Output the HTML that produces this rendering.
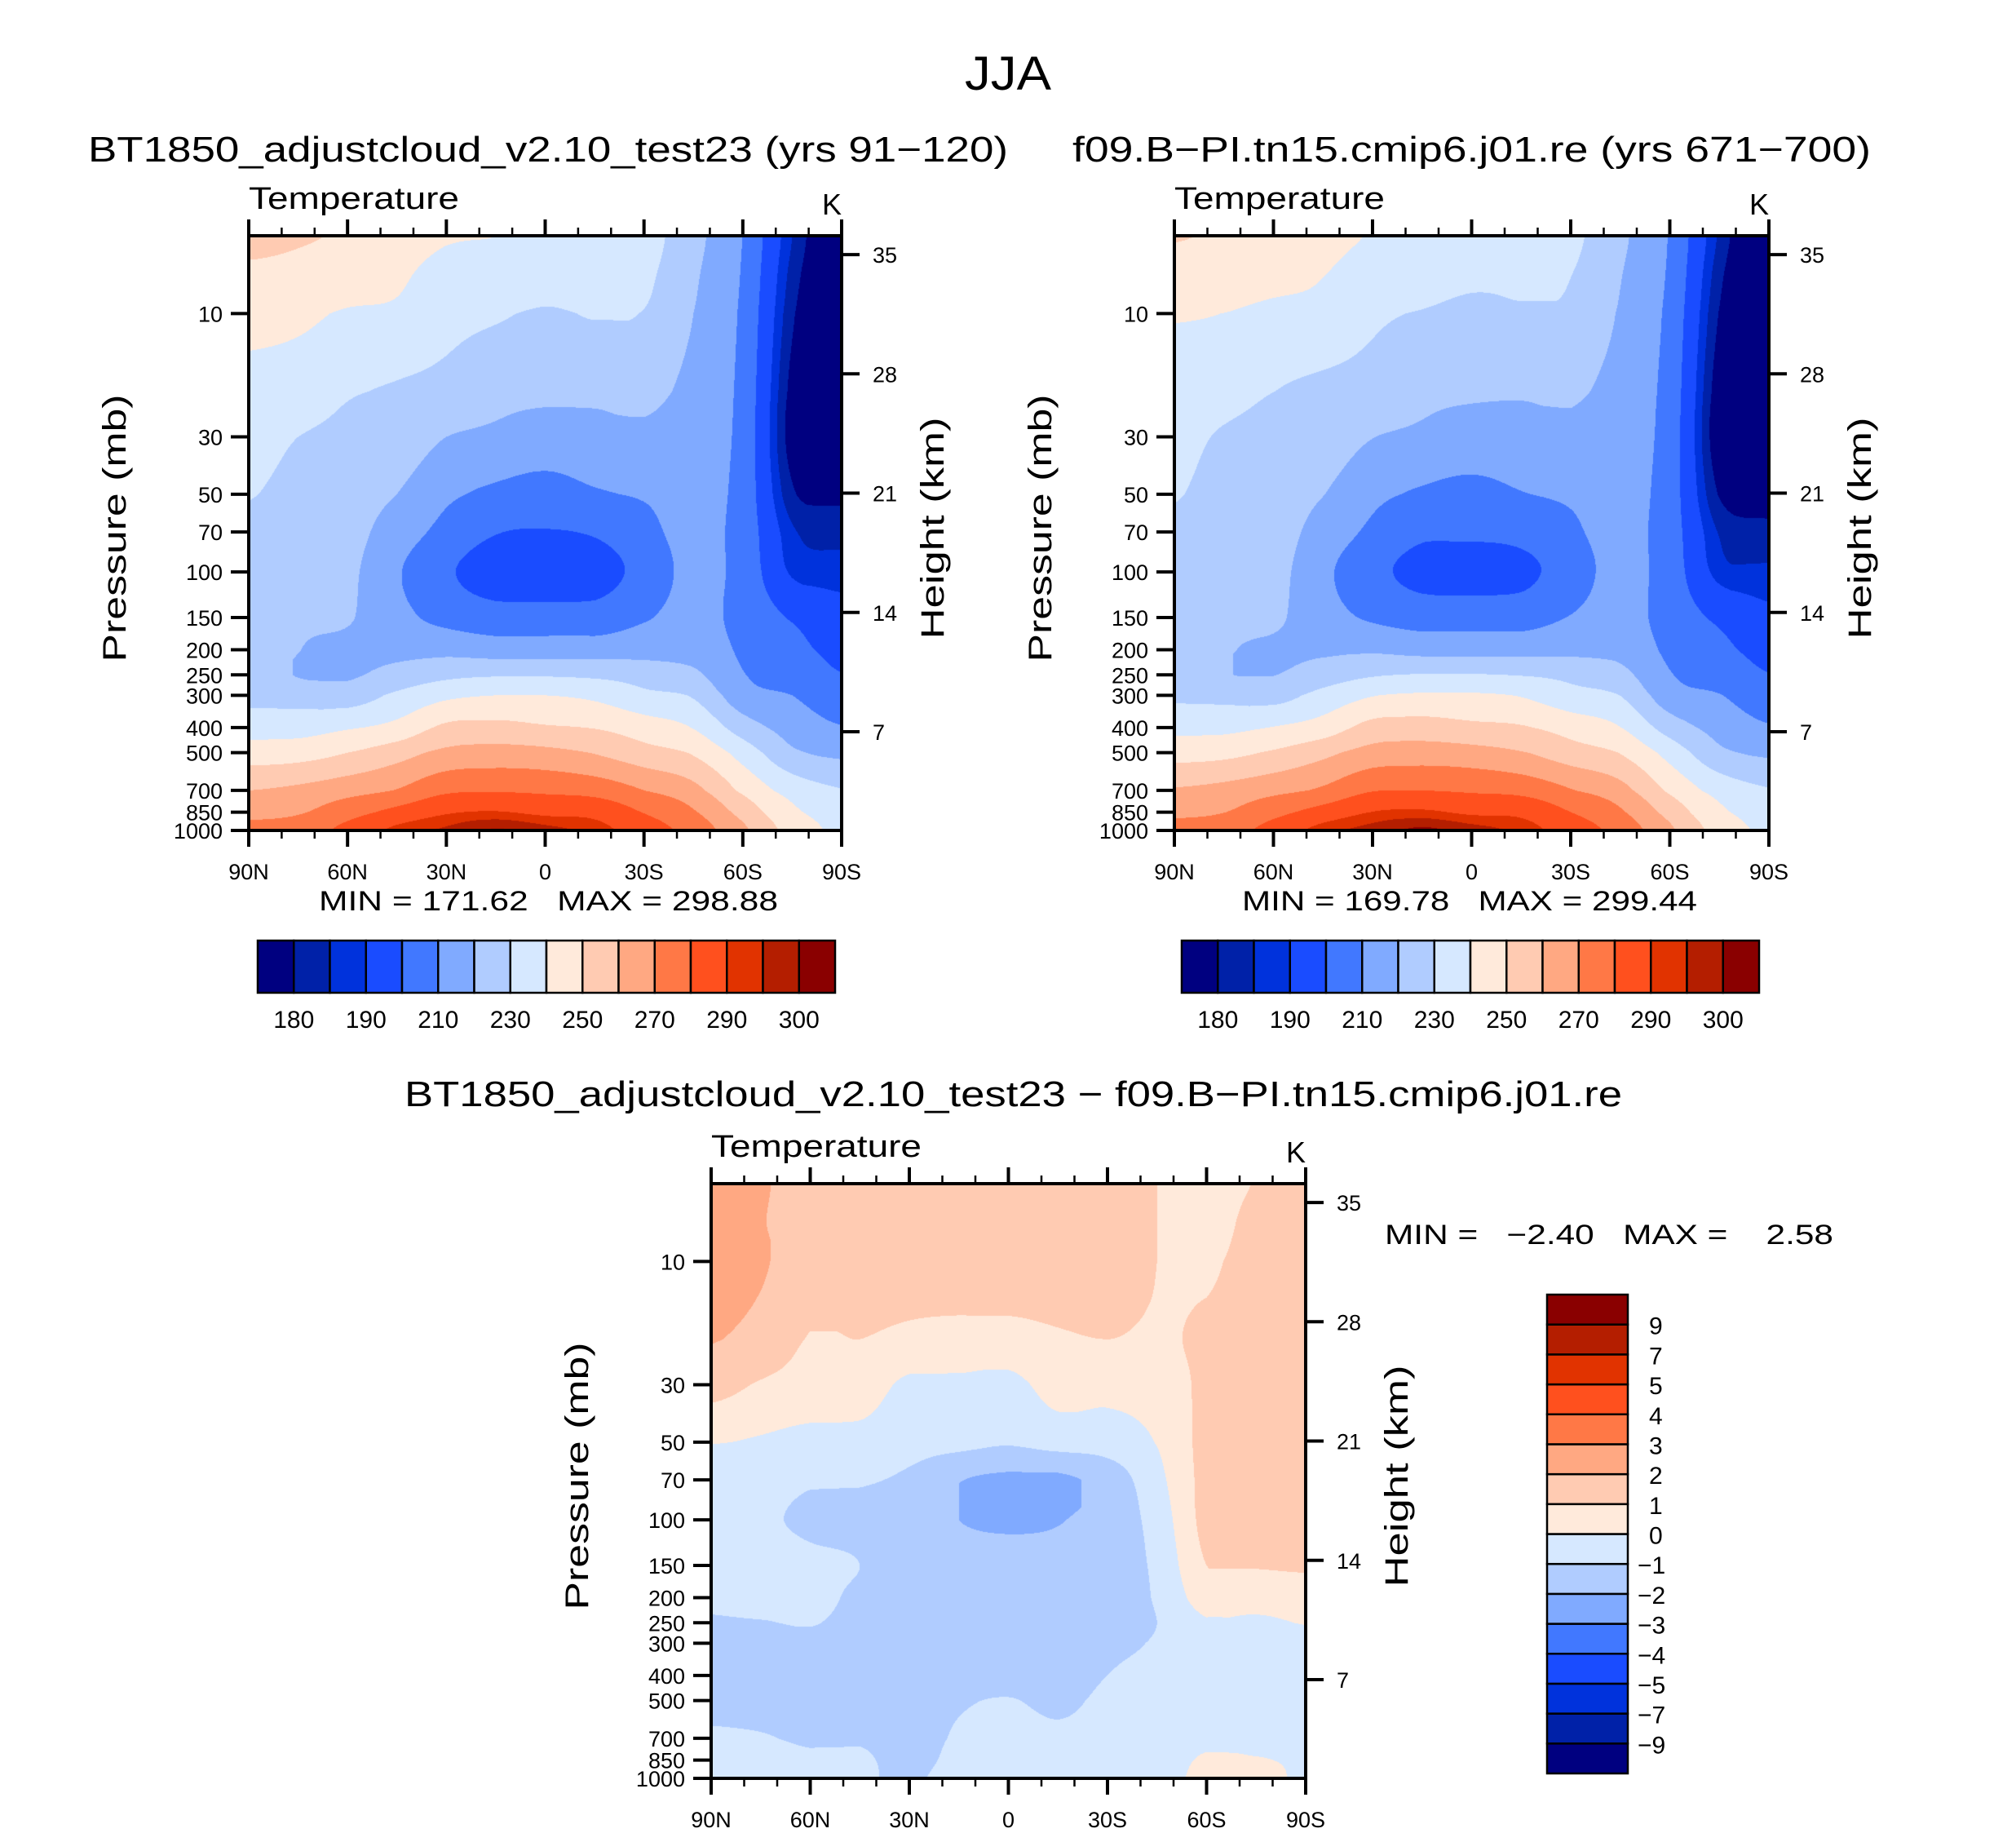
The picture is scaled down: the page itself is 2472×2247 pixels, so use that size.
<!DOCTYPE html>
<html><head><meta charset="utf-8">
<style>
html,body{margin:0;padding:0;background:#fff;}
#wrap{position:relative;width:2472px;height:2247px;overflow:hidden;background:#fff;}
canvas{position:absolute;}
svg{position:absolute;left:0;top:0;}
text{font-family:"Liberation Sans",sans-serif;fill:#000;}
</style></head>
<body>
<div id="wrap">
<canvas id="c1" style="left:305px;top:289px" width="727" height="729"></canvas>
<canvas id="c2" style="left:1440px;top:289px" width="729" height="729"></canvas>
<canvas id="c3" style="left:872px;top:1451px" width="729" height="729"></canvas>
<svg id="svg" width="2472" height="2247" viewBox="0 0 2472 2247">
<text x="1236" y="110" font-size="58" text-anchor="middle" textLength="106" lengthAdjust="spacingAndGlyphs">JJA</text>
<text x="108" y="198" font-size="44" textLength="1128" lengthAdjust="spacingAndGlyphs">BT1850_adjustcloud_v2.10_test23 (yrs 91−120)</text>
<text x="1315" y="198" font-size="44" textLength="979" lengthAdjust="spacingAndGlyphs">f09.B−PI.tn15.cmip6.j01.re (yrs 671−700)</text>
<text x="496" y="1356" font-size="44" textLength="1493" lengthAdjust="spacingAndGlyphs">BT1850_adjustcloud_v2.10_test23 − f09.B−PI.tn15.cmip6.j01.re</text>
<text x="391" y="1116" font-size="34" textLength="563" lengthAdjust="spacingAndGlyphs" xml:space="preserve">MIN = 171.62   MAX = 298.88</text>
<text x="1523" y="1116" font-size="34" textLength="558" lengthAdjust="spacingAndGlyphs" xml:space="preserve">MIN = 169.78   MAX = 299.44</text>
<text x="1698" y="1525" font-size="34" textLength="550" lengthAdjust="spacingAndGlyphs" xml:space="preserve">MIN =   −2.40   MAX =    2.58</text>
</svg>
</div>
<script>
// ---- data ----
const lats = [90,75,60,45,30,15,0,-15,-30,-45,-60,-75,-90];
const levels = [5,7,10,20,30,50,70,100,150,200,250,300,400,500,700,850,1000];
const tempLevels = [180,185,190,200,210,220,230,240,250,260,270,280,290,295,300];
const tempTickLabels = ["180","190","210","230","250","270","290","300"];
const diffLevels = [-9,-7,-5,-4,-3,-2,-1,0,1,2,3,4,5,7,9];
const pressTicks = [10,30,50,70,100,150,200,250,300,400,500,700,850,1000];
const heightTicks = [35,28,21,14,7];
const latTicks = [90,60,30,0,-30,-60,-90];
const latTickLabels = ["90N","60N","30N","0","30S","60S","90S"];
const palette = ["#000080","#0021a8","#0032dc","#1a4cff","#4178ff","#80aaff","#b0ccff","#d6e8ff","#ffeadb","#ffcbb2","#ffa882","#ff7846","#ff501e","#e13300","#b41e00","#8a0000"];

// panel 1 temperature columns (90N -> 90S), values at each level
const t1_c0=[253,248,243,237,234,230.5,228,226,225,225,226,227,236,245,260,267,273];
const t1_c1=[251,247,242,235,230,227,225,223,221.5,220.2,219.5,226,236,246,262,269,275];
const t1_c2=[249,245,239,231,228,225,223.5,222,220.8,218,218.8,225,239,250,266,276,283];
const t1_c3=[246,242,238,229,226,220,215,211,213,217,223.5,232,243,256,270.5,283,292];
const t1_c4=[241,236,233,227,220,212,207,201.5,207,217,227.5,238,252,262.5,278,289,296];
const t1_c5=[240,236,231,223,218,208,200.5,195,204,215,229,240,253,264,279,290.5,300.5];
const t1_c6=[238,234,229,222,216,206,199.5,194,204,215,229,240,251,263,278,288,297];
const t1_c7=[236,233,230.5,222,217,209,201,195.5,204,215,228,238,249.5,259.5,276,287,293];
const t1_c8=[234,232,229.5,222.5,218,211,207,203.5,209,216,226,232.5,245,254,270,279.5,285];
const t1_c9=[223,221.5,220,217,215.5,214,213,212.5,213,216,222,229,239.5,249,263,271,276];
const t1_c10=[209.8,209,208,207,206.5,206,206,206.5,207,208.5,210.5,214,225,236,248,256.5,262];
const t1_c11=[185,183,181,178,177,181,186,189,199,203,206,210,216,222,236,242,246];
const t1_c12=[172,172,171.6,172,173,178.5,183,187.5,193,197,200.3,204,210.5,218,230.5,236,238];

// panel 2 temperature columns
const t2_c0=[250.6,245.6,240.7,235.0,232.6,230.5,228.5,227,225.7,225.8,227.1,228.3,237.3,246.2,260.9,267.7,273.6];
const t2_c1=[248.9,245.0,239.9,233.3,229.1,227.1,225.6,223.9,222.1,220.8,220.6,227.3,237.4,247.3,263.0,269.8,275.7];
const t2_c2=[247.4,243.4,237.5,230.1,227.4,225.3,224.4,223.2,221.6,218.7,219.8,226.2,240.4,251.4,267.1,276.9,283.8];
const t2_c3=[244.4,240.4,236.5,228,225.5,220.3,215.9,212.3,214,218.2,224.8,233.4,244.5,257.5,271.6,283.9,292.9];
const t2_c4=[239.3,234.3,231.5,226.2,220.2,212.6,208.0,203,208.6,218.5,229,239.5,253.5,263.9,279.3,290.2,297.1];
const t2_c5=[238.2,234.2,229.4,222.3,218.2,208.7,201.9,196.9,205.6,216.5,230.5,241.5,254.4,265.1,279.9,291.3,301.2];
const t2_c6=[236.2,232.2,227.4,221.3,216.3,206.9,201.6,196.1,205.6,216.5,230.5,241.4,252.3,264.0,278.6,288.5,297.4];
const t2_c7=[234.2,231.2,228.9,221.1,216.6,209.6,203.1,197.5,205.6,216.5,229.5,239.4,250.9,260.7,276.8,287.6,293.4];
const t2_c8=[232.2,230.2,228,221.5,217.7,211.5,208.2,204.9,210.4,217.4,227.3,233.7,246,254.8,270.6,280,285.4];
const t2_c9=[222,220.5,219.0,216.1,215,214.0,213.3,213.1,213.8,216.9,223,229.9,240.2,249.6,263.5,271.4,276.3];
const t2_c10=[209.2,208.4,207.2,205.9,205.3,204.7,204.7,205.2,206,208,210.6,214.2,225.4,236.4,248.2,256.4,261.8];
const t2_c11=[184.0,181.7,179.6,176.5,175.5,179.5,184.5,187.6,198.0,202.5,206.2,210.4,216.5,222.5,236.3,242.0,245.8];
const t2_c12=[170.5,170.5,170.1,170.5,171.5,177,181.5,186.1,191.9,196.4,200.3,204.3,210.9,218.4,230.7,236.1,238.1];

// difference columns
const d_c0=[2.4,2.4,2.3,2.05,1.4,0.05,-0.5,-1.0,-0.7,-0.8,-1.1,-1.3,-1.3,-1.2,-0.9,-0.7,-0.6];
const d_c1=[2.1,2.05,2.1,1.7,0.9,-0.1,-0.6,-0.9,-0.6,-0.6,-1.05,-1.3,-1.4,-1.3,-0.95,-0.8,-0.7];
const d_c2=[1.6,1.6,1.5,0.95,0.6,-0.3,-0.9,-1.15,-0.8,-0.7,-0.95,-1.2,-1.4,-1.4,-1.1,-0.9,-0.8];
const d_c3=[1.6,1.6,1.5,1.0,0.5,-0.3,-0.9,-1.3,-1.0,-1.2,-1.3,-1.4,-1.5,-1.5,-1.1,-0.9,-0.9];
const d_c4=[1.7,1.7,1.5,0.8,-0.2,-0.6,-1.2,-1.6,-1.6,-1.5,-1.5,-1.5,-1.5,-1.4,-1.3,-1.2,-1.1];
const d_c5=[1.8,1.8,1.6,0.7,-0.2,-0.7,-1.95,-2.0,-1.6,-1.5,-1.5,-1.5,-1.4,-1.1,-0.9,-0.8,-0.7];
const d_c6=[1.8,1.8,1.6,0.7,-0.3,-0.9,-2.2,-2.15,-1.6,-1.5,-1.5,-1.4,-1.3,-0.95,-0.6,-0.5,-0.4];
const d_c7=[1.8,1.8,1.6,0.9,0.4,-0.6,-2.2,-2.05,-1.6,-1.5,-1.5,-1.4,-1.4,-1.2,-0.8,-0.6,-0.4];
const d_c8=[1.8,1.8,1.5,1.0,0.3,-0.5,-1.6,-1.6,-1.4,-1.35,-1.3,-1.2,-1.0,-0.8,-0.6,-0.5,-0.4];
const d_c9=[1.0,1.0,1.0,0.9,0.5,0.05,-0.3,-0.6,-0.8,-0.9,-1.0,-0.9,-0.7,-0.6,-0.5,-0.4,-0.3];
const d_c10=[0.6,0.6,0.85,1.15,1.2,1.3,1.3,1.3,1.0,0.5,-0.1,-0.2,-0.4,-0.4,-0.2,0.1,0.2];
const d_c11=[1.05,1.3,1.4,1.5,1.5,1.5,1.5,1.4,1.05,0.5,-0.2,-0.4,-0.5,-0.5,-0.3,0.05,0.2];
const d_c12=[1.5,1.5,1.5,1.5,1.5,1.5,1.5,1.4,1.1,0.6,0.05,-0.3,-0.4,-0.4,-0.2,-0.1,-0.1];

const t1=[t1_c0,t1_c1,t1_c2,t1_c3,t1_c4,t1_c5,t1_c6,t1_c7,t1_c8,t1_c9,t1_c10,t1_c11,t1_c12];
const t2=[t2_c0,t2_c1,t2_c2,t2_c3,t2_c4,t2_c5,t2_c6,t2_c7,t2_c8,t2_c9,t2_c10,t2_c11,t2_c12];
const dd=[d_c0,d_c1,d_c2,d_c3,d_c4,d_c5,d_c6,d_c7,d_c8,d_c9,d_c10,d_c11,d_c12];

// ---- geometry ----
const panels=[
 {left:305,top:289,w:727,h:729,data:t1,lv:tempLevels,canvas:'c1',pre:'panel1'},
 {left:1440,top:289,w:729,h:729,data:t2,lv:tempLevels,canvas:'c2',pre:'panel2'},
 {left:872,top:1451,w:729,h:729,data:dd,lv:diffLevels,canvas:'c3',pre:'diff'}
];
const PTOP=5, PBOT=1000;
const logLv=levels.map(p=>Math.log10(p));
function xOf(P,lat){return P.left+(90-lat)/180*P.w;}
function yOfP(P,p){return P.top+P.h*Math.log10(p/PTOP)/Math.log10(PBOT/PTOP);}
function yOfH(P,hk){return P.top+(608-(hk-7)*20.89)*P.h/729;}
function hex(c){return [parseInt(c.slice(1,3),16),parseInt(c.slice(3,5),16),parseInt(c.slice(5,7),16)];}
const rgb=palette.map(hex);

function cr(p0,p1,p2,p3,t){
  // Catmull-Rom with clamped overshoot
  const v=0.5*((2*p1)+(-p0+p2)*t+(2*p0-5*p1+4*p2-p3)*t*t+(-p0+3*p1-3*p2+p3)*t*t*t);
  const lo=Math.min(p1,p2),hi=Math.max(p1,p2);
  return Math.max(lo,Math.min(hi,v));
}
function sample(cols,fx,lp){
  const nx=cols.length,ny=levels.length;
  let i=Math.min(nx-2,Math.max(0,Math.floor(fx)));let tx=fx-i;
  let k=0;while(k<ny-2&&lp>logLv[k+1])k++;
  let ty=(lp-logLv[k])/(logLv[k+1]-logLv[k]);ty=Math.max(0,Math.min(1,ty));
  const cl=(a,n)=>Math.max(0,Math.min(n-1,a));
  const rows=[];
  for(let m=-1;m<=2;m++){
    const kk=cl(k+m,ny);
    rows.push(cr(cols[cl(i-1,nx)][kk],cols[i][kk],cols[i+1][kk],cols[cl(i+2,nx)][kk],tx));
  }
  return cr(rows[0],rows[1],rows[2],rows[3],ty);
}
function colorIdx(v,lv){let n=0;for(const l of lv){if(v>=l)n++;}return n;}

panels.forEach(P=>{
  const cv=document.getElementById(P.canvas);const ctx=cv.getContext('2d');
  const W=cv.width,H=cv.height;const img=ctx.createImageData(W,H);
  const nc=P.data.length-1;
  for(let y=0;y<H;y++){
    const p=PTOP*Math.pow(PBOT/PTOP,(y+0.5)/P.h);const lp=Math.log10(p);
    for(let x=0;x<W;x++){
      const lat=90-(x+0.5)/P.w*180;
      const fx=(90-lat)/180*nc;
      const v=sample(P.data,fx,lp);
      const c=rgb[colorIdx(v,P.lv)];
      const o=(y*W+x)*4;img.data[o]=c[0];img.data[o+1]=c[1];img.data[o+2]=c[2];img.data[o+3]=255;
    }
  }
  ctx.putImageData(img,0,0);
});

// ---- axes ----
const NS='http://www.w3.org/2000/svg';
const svg=document.getElementById('svg');
function el(tag,attrs,parent){const e=document.createElementNS(NS,tag);for(const k in attrs)e.setAttribute(k,attrs[k]);(parent||svg).appendChild(e);return e;}

panels.forEach(P=>{
  const g=el('g',{});
  
  
  const fr=el('rect',{x:P.left,y:P.top,width:P.w,height:P.h,fill:'none',stroke:'#000','stroke-width':4},g);
  
  
  for(let lat=90;lat>=-90;lat-=10){
    const major=lat%30===0;const L=major?20:10;const x=xOf(P,lat);
    const t1e=el('line',{x1:x,x2:x,y1:P.top,y2:P.top-L,stroke:'#000','stroke-width':major?4:2.5},g);
    
    
    const t2e=el('line',{x1:x,x2:x,y1:P.top+P.h,y2:P.top+P.h+L,stroke:'#000','stroke-width':major?4:2.5},g);
    
    
  }
  latTicks.forEach((lat,i)=>{
    const t=el('text',{x:xOf(P,lat),y:P.top+P.h+60,'font-size':27,'text-anchor':'middle'},g);
    t.textContent=latTickLabels[i];
    
    
  });
  pressTicks.forEach(p=>{
    const y=yOfP(P,p);
    const l=el('line',{x1:P.left,x2:P.left-22,y1:y,y2:y,stroke:'#000','stroke-width':4},g);
    
    
    const t=el('text',{x:P.left-32,y:y+10,'font-size':27,'text-anchor':'end'},g);
    t.textContent=String(p);
    
    
  });
  heightTicks.forEach(hk=>{
    const y=yOfH(P,hk);
    const l=el('line',{x1:P.left+P.w,x2:P.left+P.w+22,y1:y,y2:y,stroke:'#000','stroke-width':4},g);
    
    
    const t=el('text',{x:P.left+P.w+38,y:y+10,'font-size':27},g);
    t.textContent=String(hk);
    
    
  });
  const tt=el('text',{x:P.left,y:P.top-33,'font-size':38,textLength:258,lengthAdjust:'spacingAndGlyphs'},g);
  tt.textContent='Temperature';
  
  
  const kk=el('text',{x:P.left+P.w,y:P.top-26,'font-size':36,'text-anchor':'end'},g);
  kk.textContent='K';
  
  
  const cy=P.top+P.h/2-6;
  const px=P.left-151, hx=P.left+P.w+125;
  const pt=el('text',{x:px,y:cy,'font-size':40,'text-anchor':'middle',transform:`rotate(-90 ${px} ${cy})`,textLength:328,lengthAdjust:'spacingAndGlyphs','xml:space':'preserve'},g);
  pt.textContent='Pressure  (mb)';
  
  
  const ht=el('text',{x:hx,y:cy,'font-size':40,'text-anchor':'middle',transform:`rotate(-90 ${hx} ${cy})`,textLength:272,lengthAdjust:'spacingAndGlyphs'},g);
  ht.textContent='Height  (km)';
  
  
});

// ---- horizontal colorbars ----
[{x:316,pre:'panel1'},{x:1449,pre:'panel2'}].forEach(cb=>{
  const g=el('g',{});
  
  
  const y0=1153,hh=64,bw=708/palette.length;
  palette.forEach((c,i)=>{
    const r=el('rect',{x:cb.x+i*bw,y:y0,width:bw,height:hh,fill:c,stroke:'#000','stroke-width':2.5},g);
    
    
  });
  tempTickLabels.forEach((lab,i)=>{
    const bi=tempLevels.indexOf(Number(lab));
    const t=el('text',{x:cb.x+(bi+1)*bw,y:y0+hh+43,'font-size':30,'text-anchor':'middle'},g);
    t.textContent=lab;
    
    
  });
});

// ---- vertical colorbar for difference ----
(function(){
  const g=el('g',{});
  
  
  const x0=1897,y0=1587,bw=99,bh=(2174-1587)/palette.length;
  palette.forEach((c,i)=>{
    const r=el('rect',{x:x0,y:y0+(palette.length-1-i)*bh,width:bw,height:bh,fill:c,stroke:'#000','stroke-width':2.5},g);
    
    
  });
  diffLevels.forEach((v,i)=>{
    const y=y0+(palette.length-1-i)*bh;
    const neg=v<0;
    const t=el('text',{x:neg?2008:2022,y:y+12,'font-size':30},g);
    t.textContent=neg?('−'+Math.abs(v)):String(v);
    
    
  });
})();
</script>
</body></html>
